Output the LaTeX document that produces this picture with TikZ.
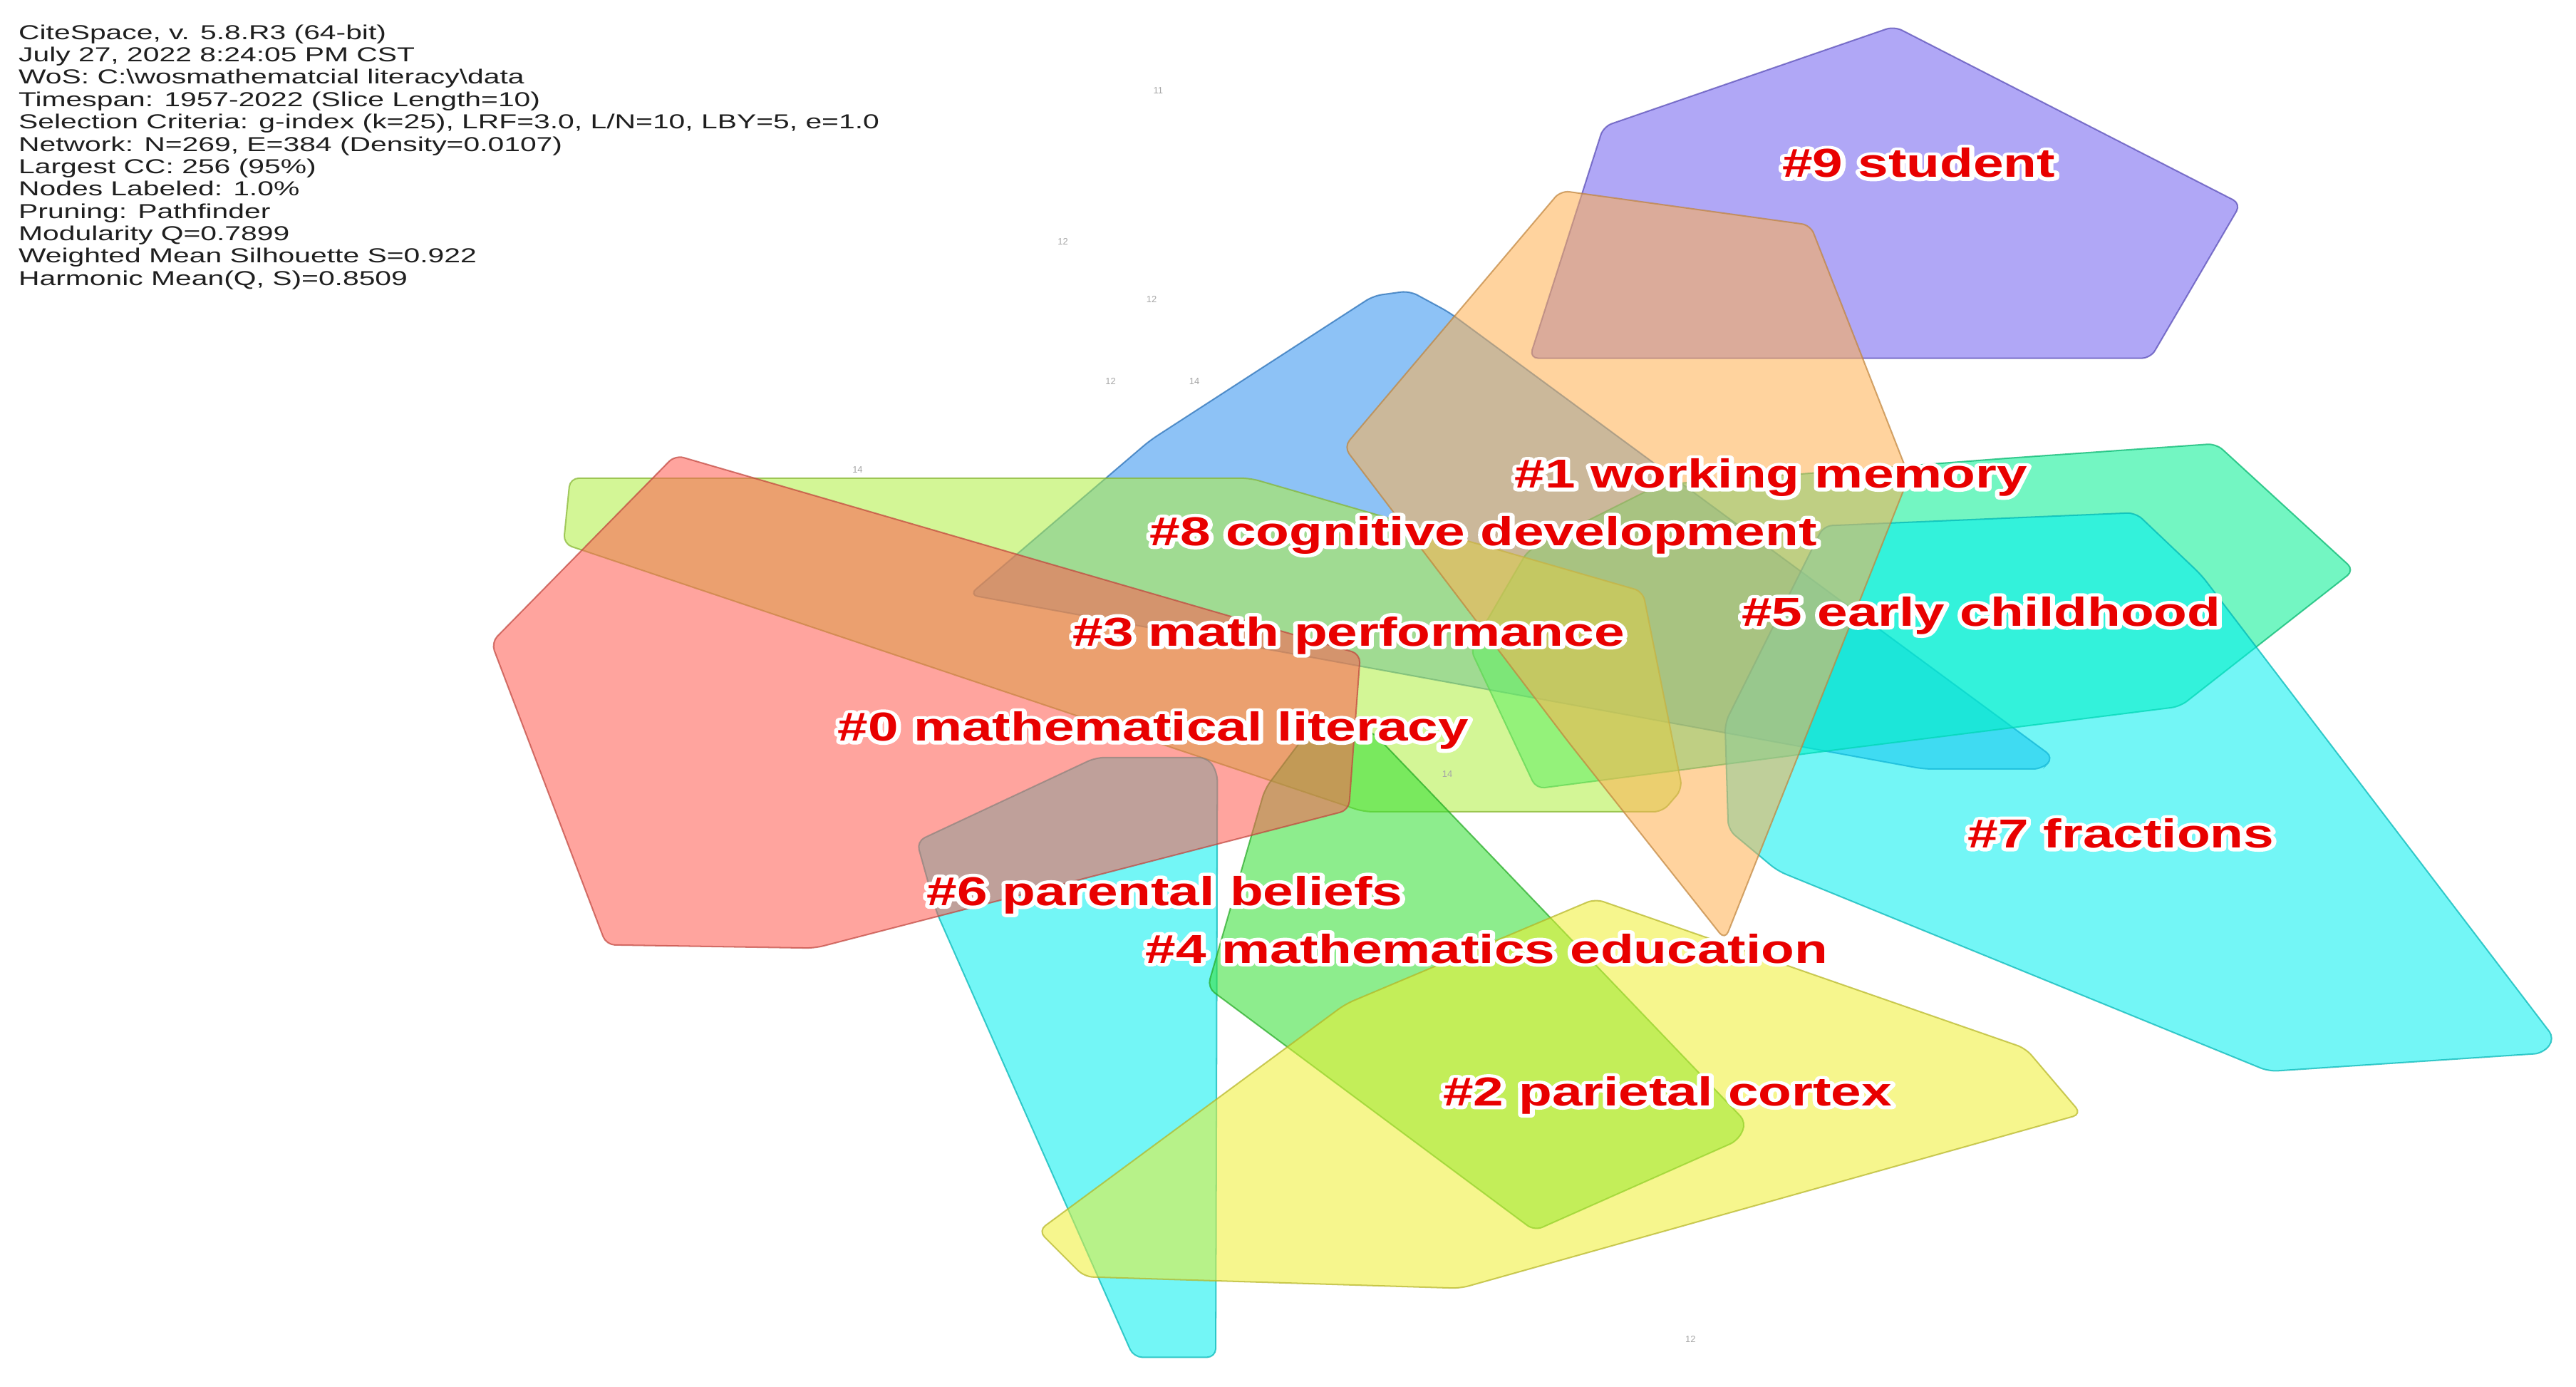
\documentclass[tikz,border=0pt]{standalone}
\usepackage{fontspec}
\setmainfont{Liberation Sans}
\definecolor{cRed}{RGB}{255,90,80}
\definecolor{cOrange}{RGB}{255,176,80}
\definecolor{cPurple}{RGB}{112,96,240}
\definecolor{cBlue}{RGB}{48,144,240}
\definecolor{cLime}{RGB}{176,240,64}
\definecolor{cGreen}{RGB}{48,224,48}
\definecolor{cYellow}{RGB}{240,240,48}
\definecolor{cCyan}{RGB}{0,240,240}
\definecolor{cTeal}{RGB}{0,240,144}
\definecolor{lblred}{RGB}{232,0,0}
% white outline (stroke render mode) under the red text
\newcommand{\haloed}[1]{\rlap{\color{white}\special{pdf:literal direct 1 j 2.4 w 1 Tr}#1\special{pdf:literal direct 0 Tr 0 j 0.4 w}}#1}
\newcommand{\lbltext}[1]{\scalebox{1.35}[1]{\haloed{#1}}}
\tikzset{
  hull/.style={fill=#1, fill opacity=0.55, draw=#1!75!black, draw opacity=0.7,
               line width=0.5pt, rounded corners=3pt},
  lbl/.style={anchor=base, inner sep=0pt, text=lblred,
              font=\fontsize{14}{16}\selectfont\bfseries},
  tinynum/.style={inner sep=0pt, text=black!35, font=\fontsize{3.2}{3.5}\selectfont},
  hdrtext/.style={anchor=north west, inner sep=0pt, text=black!88,
                  font=\fontsize{7}{7.75}\selectfont}
}
\begin{document}
\begin{tikzpicture}[x=0.02cm, y=-0.02cm]
\fill[white] (0,0) rectangle (1568,844);
\useasboundingbox (0,0) rectangle (1568,844);

% cluster hulls
\draw[hull=cPurple] (1153,16) -- (1364,124) -- (1309,218) -- (931,218) -- (976,77) -- cycle;
\draw[hull=cBlue] (590,362) -- (700,268) -- (836,180) -- (858,177) -- (882,190) -- (1250,461)
      -- (1243,468) -- (1171,468) -- cycle;
\draw[hull=cTeal] (895,395) -- (930,335) -- (1010,295) -- (1220,279) -- (1349,270)
      -- (1433,347) -- (1327,430) -- (1120,456) -- (935,480) -- cycle;
\draw[hull=cCyan] (1110,320) -- (1300,312) -- (1340,350) -- (1555,632) -- (1548,641)
      -- (1381,652) -- (1082,530) -- (1052,505) -- (1050,440) -- cycle;
\draw[hull=cLime] (347,291) -- (761,291) -- (1000,360) -- (1024,480) -- (1012,494)
      -- (830,494) -- (343,331) -- cycle;
\draw[hull=cCyan] (558,512) -- (667,461) -- (735,461) -- (741,470) -- (740,826)
      -- (690,826) -- (570,555) -- cycle;
\draw[hull=cGreen] (800,440) -- (835,445) -- (1063,683) -- (1058,694) -- (934,749)
      -- (735,601) -- (770,480) -- cycle;
\draw[hull=cRed] (411,277) -- (828,398) -- (821,493) -- (496,577) -- (369,575)
      -- (299,391) -- cycle;
\draw[hull=cOrange] (950,116) -- (1102,137) -- (1162,290) -- (1050,572) -- (955,452)
      -- (818,272) -- cycle;
\draw[hull=cYellow] (971,547) -- (1233,638) -- (1267,678) -- (889,784) -- (660,777)
      -- (632,749) -- (819,611) -- cycle;

% small node numbers
\node[tinynum] (n1) at (705,55) {11};
\node[tinynum] (n2) at (647,147) {12};
\node[tinynum] (n3) at (701,182) {12};
\node[tinynum] (n4) at (676,232) {12};
\node[tinynum] (n5) at (727,232) {14};
\node[tinynum] (n6) at (522,286) {14};
\node[tinynum] (n7) at (881,471) {14};
\node[tinynum] (n8) at (1029,815) {12};

% header
\node[hdrtext] (hdr) at (11,14) {\scalebox{1.44}[1]{\begin{tabular}{@{}l@{}}
CiteSpace, v. 5.8.R3 (64-bit)\\
July 27, 2022 8:24:05 PM CST\\
WoS: C:\textbackslash wosmathematcial literacy\textbackslash data\\
Timespan: 1957-2022 (Slice Length=10)\\
Selection Criteria: g-index (k=25), LRF=3.0, L/N=10, LBY=5, e=1.0\\
Network: N=269, E=384 (Density=0.0107)\\
Largest CC: 256 (95\%)\\
Nodes Labeled: 1.0\%\\
Pruning: Pathfinder\\
Modularity Q=0.7899\\
Weighted Mean Silhouette S=0.922\\
Harmonic Mean(Q, S)=0.8509
\end{tabular}}};

% cluster labels
\node[lbl] (l9) at (1168,108) {\lbltext{\#9 student}};
\node[lbl] (l1) at (1078,297) {\lbltext{\#1 working memory}};
\node[lbl] (l8) at (903,332) {\lbltext{\#8 cognitive development}};
\node[lbl] (l5) at (1206,381) {\lbltext{\#5 early childhood}};
\node[lbl] (l3) at (821,393) {\lbltext{\#3 math performance}};
\node[lbl] (l0) at (702,451) {\lbltext{\#0 mathematical literacy}};
\node[lbl] (l7) at (1291,516) {\lbltext{\#7 fractions}};
\node[lbl] (l6) at (709,551) {\lbltext{\#6 parental beliefs}};
\node[lbl] (l4) at (905,586) {\lbltext{\#4 mathematics education}};
\node[lbl] (l2) at (1015,673) {\lbltext{\#2 parietal cortex}};
\end{tikzpicture}
\end{document}
